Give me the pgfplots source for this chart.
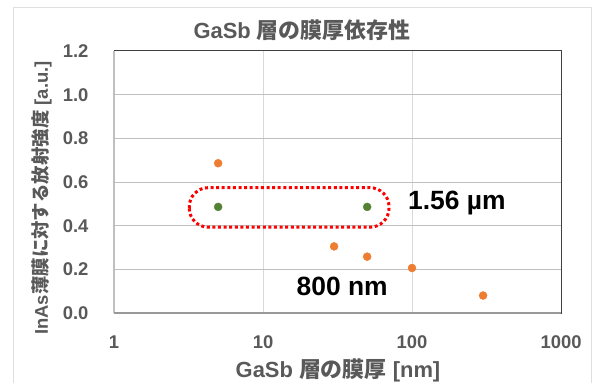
\documentclass[border=0pt]{standalone}
\usepackage{pgfplots}
\pgfplotsset{compat=1.18}
\usepackage{fontspec}
\setmainfont{Liberation Sans}
\newfontfamily\jp{Noto Sans CJK JP}
\definecolor{tickgray}{HTML}{595959}
\definecolor{gridh}{HTML}{BFBFBF}
\definecolor{gridv}{HTML}{D9D9D9}
\definecolor{boxdark}{HTML}{404040}
\definecolor{orangept}{HTML}{ED7D31}
\definecolor{greenpt}{HTML}{548235}
\begin{document}
\begin{tikzpicture}[x=1bp,y=1bp]
\path[use as bounding box] (0,0) rectangle (592,383);
\draw[gray!25, line width=0.8bp] (13,0) -- (13,376) -- (591,376) -- (591,0);
\begin{axis}[
  at={(114bp,70bp)}, anchor=south west,
  scale only axis, width=447bp, height=262bp,
  xmode=log, xmin=1, xmax=1000,
  ymin=0, ymax=1.2,
  ytick={0,0.2,0.4,0.6,0.8,1.0,1.2},
  yticklabels={0.0,0.2,0.4,0.6,0.8,1.0,1.2},
  xtick={1,10,100,1000},
  xticklabels={1,10,100,1000},
  tick label style={font=\fontsize{18.5}{20}\selectfont\bfseries, text=tickgray},
  xticklabel style={yshift=-19bp},
  yticklabel style={xshift=-22bp},
  minor tick num=0,
  minor x tick style={draw=none},
  major tick style={draw=none},
  xmajorgrids, ymajorgrids,
  x grid style={gridv, line width=0.8bp},
  y grid style={gridh, line width=1bp},
  axis line style={boxdark, line width=1bp},
  clip=false,
]
\addplot[only marks, mark=*, mark size=4bp, color=orangept] coordinates {
  (5,0.686) (30,0.305) (50,0.258) (100,0.206) (300,0.080)
};
\addplot[only marks, mark=*, mark size=4bp, color=greenpt] coordinates {
  (5,0.486) (50,0.486)
};
\draw[gridh, line width=1.2bp] (rel axis cs:0,0) -- (rel axis cs:0,1);
\draw[gridh!80!black, line width=1.2bp] (rel axis cs:0,0) -- (rel axis cs:1,0);
\draw[red, line width=3bp, dash pattern=on 3bp off 2.6bp, rounded corners=19bp]
  (axis cs:3.2,0.393) rectangle (axis cs:70.1,0.574);
\node[font=\fontsize{26.5}{28}\selectfont\bfseries] at (axis cs:200,0.503) {1.56 µm};
\node[font=\fontsize{26.5}{28}\selectfont\bfseries] at (axis cs:34,0.12) {800 nm};
\end{axis}
\node[font=\fontsize{22}{24}\selectfont\bfseries, text=tickgray] at (302,353) {GaSb {\jp 層の膜厚依存性}};
\node[font=\fontsize{22}{24}\selectfont\bfseries, text=tickgray] at (338,12.5) {GaSb {\jp 層の膜厚} [nm]};
\node[font=\fontsize{18.5}{20}\selectfont\bfseries, text=tickgray, rotate=90] at (42,185) {InAs{\jp 薄膜に対する放射強度} [a.u.]};
\end{tikzpicture}
\end{document}
